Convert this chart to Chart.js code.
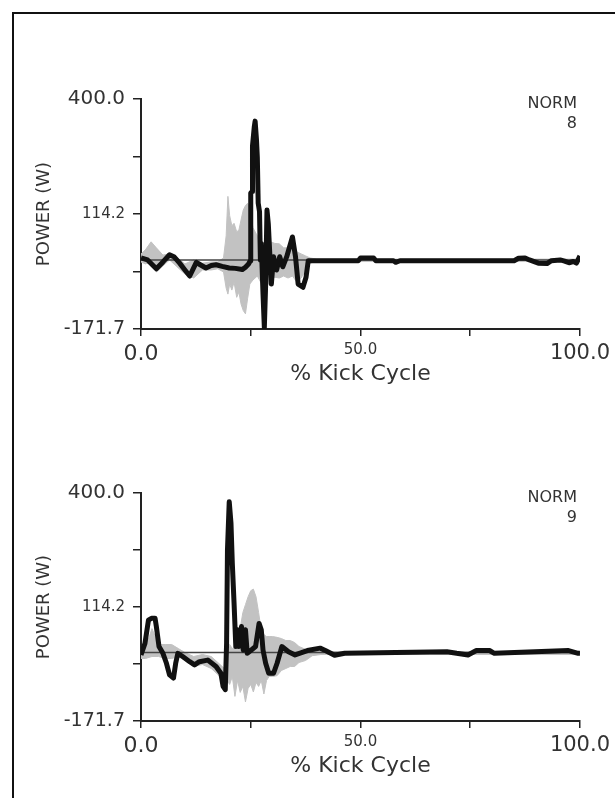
<!DOCTYPE html>
<html>
<head>
<meta charset="utf-8">
<script src="https://cdn.jsdelivr.net/npm/chart.js@4/dist/chart.umd.min.js"></script>
<style>
  html, body { margin: 0; padding: 0; background: #fff; overflow: hidden; }
  #page { position: relative; width: 615px; height: 798px; overflow: hidden; }
  #frame { position: absolute; left: 12px; top: 12px; width: 700px; height: 900px; border: 2px solid #111; }
  canvas { position: absolute; left: 0; top: 0; }
</style>
</head>
<body>
<div id="page">
  <div id="frame"></div>
  <canvas id="chartTop" width="615" height="798"></canvas>
  <canvas id="chartBottom" width="615" height="798"></canvas>
</div>
<script>
/* AXES */
const yTickValues = [-171.7, -28.775, 114.15, 257.075, 400.0];
const yTickLabels = ['-171.7', '', '114.2', '', '400.0'];
const xTickValues = [0, 25, 50, 75, 100];
const xTickLabels = ['0.0', '', '50.0', '', '100.0'];

/* TOP CHART (NORM 8) */
const topMeanX = [0, 1.5, 3.5, 5, 6.5, 7.5, 8.8, 10, 11.1, 12.6, 13.5, 14.8, 16, 17.1, 18.5, 20.1, 21.5, 23.1, 23.8, 24.5,
  24.9, 25.0, 25.3, 25.4, 25.8, 26.0, 26.3, 26.5, 26.7, 27.0, 27.2, 27.4, 27.8, 28.1, 28.4, 28.7, 29.0, 29.3, 29.7, 30.2,
  30.9, 31.6, 32.3, 33.2, 34.5, 35.2, 35.8, 36.9, 37.6, 38.1, 45, 49.5, 50, 53, 53.5, 57.5, 58, 59, 85, 86,
  87.5, 88.5, 90.5, 92.5, 93.5, 95.5, 96.5, 97.5, 98.5, 99.2, 100];
const topMeanY = [5, 0, -22, -5, 13, 8, -8, -25, -40, -6, -12, -20, -14, -12, -16, -20, -21, -24, -18, -10,
  -2, 166, 170, 283, 330, 345, 300, 255, 141, 120, -1, 41, -85, -168, -60, 124, 90, 24, -60, 8,
  -25, 8, -17, 8, 57, 8, -60, -68, -43, -2, -2, -2, 5, 5, -2, -2, -6, -2, -2, 4,
  5, 0, -8, -9, -2, 0, -3, -7, -4, -8, 10];

const topBandX = [0, 1, 2.3, 3.5, 5, 6.5, 8, 10, 12, 14, 16, 17.5, 18.8, 19.4, 19.8, 20.2, 20.7, 21.2, 21.8, 22.3,
  22.8, 23.3, 23.8, 24.3, 24.8, 25.5, 26.5, 27.5, 28.5, 29.5, 30.5, 31.5, 32.5, 33.5, 34.5, 35.5, 36.5, 37.5, 38.5, 40, 100];
const topBandHigh = [15, 25, 45, 30, 12, 15, 8, -10, 0, -8, -5, -5, 5, 60, 158, 110, 85, 91, 70, 74,
  100, 124, 135, 141, 130, 80, 60, 45, 40, 45, 41, 40, 30, 30, 35, 20, 15, 10, 5, 2, 2];
const topBandLow = [-5, -10, -5, -30, -15, 0, -15, -35, -45, -25, -25, -22, -30, -70, -85, -60, -75, -55, -93, -80,
  -110, -126, -134, -95, -60, -50, -40, -60, -70, -50, -43, -45, -40, -45, -40, -55, -45, -25, -8, -4, -4];

/* BOTTOM CHART (NORM 9) */
const botMeanX = [0, 0.9, 1.7, 2.4, 3.2, 3.5, 4.1, 5, 5.8, 6.5, 7.4, 7.9, 8.4, 9.5, 11.1, 12.2, 13.3, 15.2, 17.1, 18.2,
  18.7, 19.2, 19.5, 19.7, 20.1, 20.5, 20.8, 21.2, 21.6, 22.0, 22.3, 22.9, 23.3, 23.8, 24.2, 25, 26.1, 26.9, 27.4, 27.8,
  28.4, 29.1, 30.2, 31, 32.1, 33.6, 35.1, 37.9, 40.8, 42, 44.1, 46.4, 69.7, 71.9, 74.5, 76.4, 79.4, 80.5, 97.4, 99.6, 100];
const botMeanY = [-6, 23, 81, 86, 86, 65, 15, -2, -27, -56, -64, -27, -2, -10, -23, -31, -23, -19, -35, -52,
  -85, -93, 23, 257, 378, 324, 224, 124, 15, 57, 15, 65, 6, 57, -2, 5, 15, 73, 57, 6,
  -27, -52, -52, -27, 15, 2, -6, 5, 11, 5, -7, -2, 2, -2, -6, 5, 5, -2, 5, -2, -2];

const botBandX = [0, 1, 2.5, 4, 5.5, 7, 8.5, 10, 12, 14, 16, 18, 19, 19.6, 20.2, 20.8, 21.4, 22, 22.6, 23.2,
  23.8, 24.4, 25, 25.6, 26.2, 26.8, 27.4, 28, 28.6, 29.2, 30, 31, 32, 33, 34, 35, 36, 37.5, 39, 41, 100];
const botBandHigh = [5, 10, 60, 20, 20, 20, 10, 0, -10, -5, -10, -30, -40, 0, 20, 10, 15, 30, 60, 100,
  120, 140, 155, 159, 140, 100, 55, 45, 40, 40, 40, 38, 35, 30, 30, 25, 15, 8, 4, 2, 2];
const botBandLow = [-15, -15, -10, -10, -15, -15, -10, -20, -35, -30, -40, -60, -90, -70, -80, -60, -110, -70, -100, -85,
  -124, -90, -80, -99, -75, -85, -70, -104, -70, -60, -60, -58, -45, -40, -35, -35, -25, -20, -8, -5, -5];

const FONT = 'DejaVu Sans';
const TEXT = '#333';

function pts(xs, ys) {
  return xs.map((x, i) => ({ x: x, y: ys[i] }));
}

// NORM label in the top right corner of each panel
const normLabel = {
  id: 'normLabel',
  afterDraw(chart, args, opts) {
    const ctx = chart.ctx;
    const area = chart.chartArea;
    ctx.save();
    ctx.fillStyle = TEXT;
    ctx.textAlign = 'right';
    ctx.textBaseline = 'alphabetic';
    ctx.font = '16px "' + FONT + '"';
    ctx.fillText('NORM', area.right - 3, area.top + 9);
    ctx.fillText(opts.trial, area.right - 3, area.top + 29);
    ctx.restore();
  }
};

function createPanel(canvasId, meanX, meanY, bandX, bandHigh, bandLow, padTop, padBottom, trial) {
  const ctx = document.getElementById(canvasId).getContext('2d');
  return new Chart(ctx, {
    type: 'line',
    data: {
      datasets: [
        {
          data: pts(meanX, meanY),
          borderColor: '#111',
          borderWidth: 5,
          borderJoinStyle: 'round',
          pointRadius: 0,
          tension: 0,
          order: 0,
        },
        {
          data: pts([0, 100], [0, 0]),
          borderColor: '#444',
          borderWidth: 1.5,
          pointRadius: 0,
          order: 1,
        },
        {
          data: pts(bandX, bandHigh),
          borderColor: '#c2c2c2',
          borderWidth: 1,
          backgroundColor: '#c2c2c2',
          pointRadius: 0,
          fill: '+1',
          order: 2,
        },
        {
          data: pts(bandX, bandLow),
          borderColor: '#c2c2c2',
          borderWidth: 1,
          pointRadius: 0,
          fill: false,
          order: 3,
        },
      ],
    },
    options: {
      responsive: false,
      animation: false,
      events: [],
      layout: { padding: { top: padTop, bottom: padBottom, left: 0, right: 31 } },
      plugins: {
        legend: { display: false },
        tooltip: { enabled: false },
        normLabel: { trial: trial },
      },
      scales: {
        x: {
          type: 'linear',
          min: 0,
          max: 100,
          afterBuildTicks: s => { s.ticks = xTickValues.map(v => ({ value: v })); },
          afterFit: s => { s.height = 58; },
          border: { display: true, color: '#222', width: 2 },
          grid: { display: true, drawOnChartArea: false, drawTicks: true, tickLength: 7, color: '#222', lineWidth: 1.5 },
          ticks: {
            autoSkip: false,
            maxRotation: 0,
            padding: 5,
            color: TEXT,
            callback: (v, i) => xTickLabels[i],
            font: c => ({ family: FONT, size: [22, 22, 15, 22, 21][c.index] }),
          },
          title: {
            display: true,
            text: '% Kick Cycle',
            color: TEXT,
            font: { family: FONT, size: 22 },
            padding: { top: 0, bottom: 0 },
          },
        },
        y: {
          type: 'linear',
          min: -171.7,
          max: 400,
          afterBuildTicks: s => { s.ticks = yTickValues.map(v => ({ value: v })); },
          afterFit: s => { s.width = 141; },
          border: { display: true, color: '#222', width: 2 },
          grid: { display: true, drawOnChartArea: false, drawTicks: true, tickLength: 8, color: '#222', lineWidth: 1.5 },
          ticks: {
            autoSkip: false,
            padding: 8,
            color: TEXT,
            callback: (v, i) => yTickLabels[i],
            font: c => ({ family: FONT, size: [19, 19, 15, 19, 20][c.index] }),
          },
          title: {
            display: true,
            text: 'POWER (W)',
            color: TEXT,
            font: { family: FONT, size: 18 },
            padding: { top: 34, bottom: 0 },
          },
        },
      },
    },
    plugins: [normLabel],
  });
}

createPanel('chartTop', topMeanX, topMeanY, topBandX, topBandHigh, topBandLow, 99, 798 - 329 - 58, '8');
createPanel('chartBottom', botMeanX, botMeanY, botBandX, botBandHigh, botBandLow, 493, 798 - 721 - 58, '9');
</script>
</body>
</html>
